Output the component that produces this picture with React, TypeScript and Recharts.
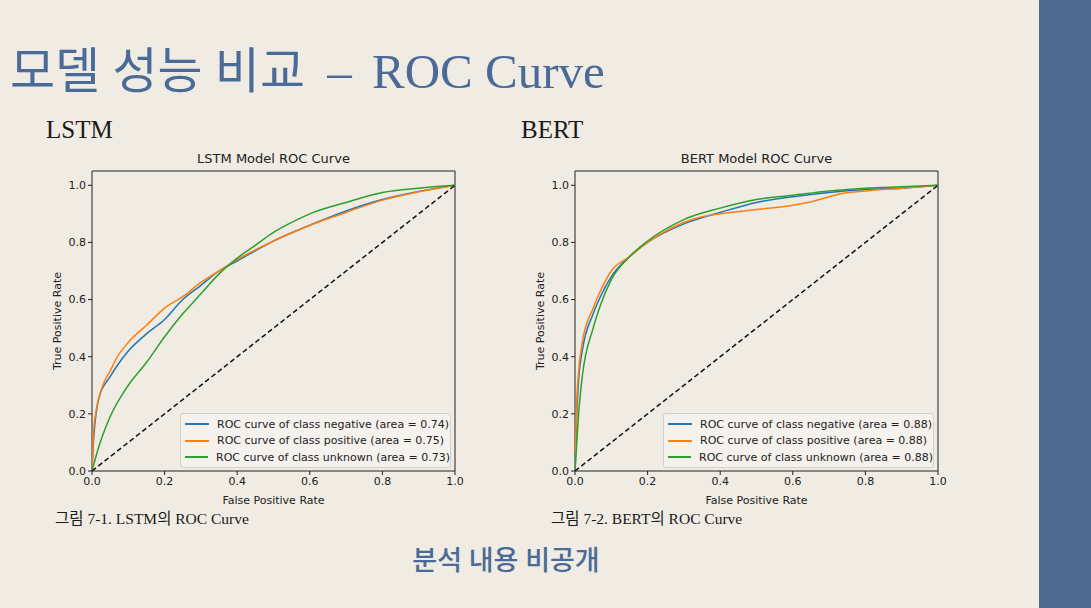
import React from 'react';
import { Legend, Line, LineChart, ReferenceArea, ReferenceLine, XAxis, YAxis } from 'recharts';

// [false positive rate, true positive rate]
const lstmNegative: [number, number][] = [
  [0, 0], [0.005, 0.12], [0.02, 0.26], [0.05, 0.33], [0.07, 0.37], [0.1, 0.42], [0.15, 0.48],
  [0.2, 0.53], [0.25, 0.6], [0.3, 0.65], [0.35, 0.7], [0.4, 0.735], [0.5, 0.805],
  [0.6, 0.86], [0.7, 0.91], [0.8, 0.95], [0.9, 0.978], [1, 1],
];
const lstmPositive: [number, number][] = [
  [0, 0], [0.005, 0.15], [0.01, 0.2], [0.03, 0.3], [0.05, 0.35], [0.07, 0.4], [0.1, 0.45],
  [0.15, 0.51], [0.2, 0.57], [0.25, 0.61], [0.3, 0.66], [0.35, 0.7], [0.4, 0.74],
  [0.5, 0.805], [0.6, 0.86], [0.7, 0.905], [0.8, 0.948], [0.9, 0.977], [1, 1],
];
const lstmUnknown: [number, number][] = [
  [0, 0], [0.02, 0.09], [0.04, 0.16], [0.05, 0.19], [0.1, 0.3], [0.15, 0.38], [0.2, 0.47],
  [0.25, 0.55], [0.3, 0.62], [0.35, 0.69], [0.4, 0.745], [0.45, 0.79], [0.5, 0.835],
  [0.55, 0.87], [0.6, 0.9], [0.7, 0.94], [0.8, 0.975], [0.9, 0.99], [1, 1],
];

const bertNegative: [number, number][] = [
  [0, 0], [0.005, 0.2], [0.01, 0.32], [0.02, 0.42], [0.05, 0.55], [0.07, 0.61], [0.1, 0.68],
  [0.15, 0.75], [0.2, 0.8], [0.3, 0.865], [0.4, 0.905], [0.5, 0.94], [0.6, 0.96],
  [0.7, 0.975], [0.8, 0.985], [0.9, 0.99], [1, 1],
];
const bertPositive: [number, number][] = [
  [0, 0], [0.005, 0.25], [0.01, 0.35], [0.02, 0.45], [0.05, 0.57], [0.07, 0.63], [0.1, 0.7],
  [0.15, 0.75], [0.2, 0.8], [0.3, 0.87], [0.35, 0.89], [0.4, 0.9], [0.5, 0.915],
  [0.6, 0.93], [0.66, 0.945], [0.7, 0.96], [0.74, 0.972], [0.8, 0.98], [0.9, 0.99], [1, 1],
];
const bertUnknown: [number, number][] = [
  [0, 0], [0.005, 0.1], [0.01, 0.2], [0.02, 0.33], [0.05, 0.5], [0.07, 0.58], [0.1, 0.67],
  [0.15, 0.75], [0.2, 0.805], [0.3, 0.88], [0.4, 0.92], [0.5, 0.95], [0.6, 0.965],
  [0.7, 0.98], [0.8, 0.99], [0.9, 0.995], [1, 1],
];

const lstmAreas = ['0.74', '0.75', '0.73'];
const bertAreas = ['0.88', '0.88', '0.88'];
const classNames = ['negative', 'positive', 'unknown'];
const classColors = ['#1f77b4', '#ff7f0e', '#2ca02c'];
const ticks = [0, 0.2, 0.4, 0.6, 0.8, 1.0];

const BG = '#f0ebe3';
const BLUE = '#4a6a98';
const mpl = '"DejaVu Sans", sans-serif';
const serif = '"Liberation Serif", "Noto Sans CJK KR", serif';

const toRows = (pts: [number, number][]) => pts.map(([fpr, tpr]) => ({ fpr, tpr }));

const LegendBox = (props: any) => {
  const items = props.payload || [];
  return (
    <div
      style={{
        width: 269, height: 51, border: '1px solid #d4d0ca', borderRadius: 3,
        background: 'rgba(246,243,238,0.8)', fontFamily: mpl, fontSize: 11, color: '#222',
        boxSizing: 'content-box', paddingTop: 2,
      }}
    >
      {items.map((it: any) => (
        <div key={it.value} style={{ display: 'flex', alignItems: 'center', height: 16.5 }}>
          <div style={{ width: 24, height: 2, background: it.color, marginLeft: 4, marginRight: 8 }} />
          <span style={{ whiteSpace: 'nowrap' }}>{it.value}</span>
        </div>
      ))}
    </div>
  );
};

interface PanelProps {
  left: number;
  title: string;
  curves: [number, number][][];
  areas: string[];
}

const RocPanel: React.FC<PanelProps> = ({ left, title, curves, areas }) => (
  <div style={{ position: 'absolute', left, top: 140, width: 440, height: 380 }}>
    <div
      style={{
        position: 'absolute', left: 62, width: 363, top: 11, textAlign: 'center',
        fontFamily: mpl, fontSize: 13, color: '#222', lineHeight: '16px',
      }}
    >
      {title}
    </div>
    <LineChart width={440} height={380} margin={{ top: 31, right: 15, bottom: 16, left: 22 }}>
      <XAxis
        dataKey="fpr" type="number" domain={[0, 1]} ticks={ticks} allowDataOverflow
        tickFormatter={(v: number) => v.toFixed(1)} axisLine={false} tickSize={4}
        tickLine={{ stroke: '#222' }} tick={{ fill: '#222', fontSize: 11, fontFamily: mpl }}
        height={33}
        label={{ value: 'False Positive Rate', position: 'insideBottom', offset: 0, fill: '#222', fontSize: 11, fontFamily: mpl }}
      />
      <YAxis
        type="number" domain={[0, 1.05]} ticks={ticks} allowDataOverflow
        tickFormatter={(v: number) => v.toFixed(1)} axisLine={false} tickSize={4}
        tickLine={{ stroke: '#222' }} tick={{ fill: '#222', fontSize: 11, fontFamily: mpl }}
        width={40}
        label={{ value: 'True Positive Rate', angle: -90, position: 'insideLeft', offset: 5, fill: '#222', fontSize: 11, fontFamily: mpl, style: { textAnchor: 'middle' } }}
      />
      {curves.map((c, i) => (
        <Line
          key={classNames[i]} data={toRows(c)} dataKey="tpr" type="monotone" dot={false}
          stroke={classColors[i]} strokeWidth={1.5} isAnimationActive={false}
          name={`ROC curve of class ${classNames[i]} (area = ${areas[i]})`}
        />
      ))}
      <ReferenceLine
        segment={[{ x: 0, y: 0 }, { x: 1, y: 1 }]} stroke="#111" strokeWidth={1.5}
        strokeDasharray="5 3" ifOverflow="visible"
      />
      <ReferenceArea x1={0} x2={1} y1={0} y2={1.05} fill="none" stroke="#222" strokeWidth={1} ifOverflow="visible" />
      <Legend
        layout="vertical" align="center" verticalAlign="middle" content={LegendBox}
        wrapperStyle={{ left: 150, top: 273, width: 271, height: 54 }}
      />
    </LineChart>
  </div>
);

export default function App() {
  return (
    <div style={{ position: 'absolute', left: 0, top: 0, width: 1091, height: 608, background: BG, overflow: 'hidden' }}>
      <div
        style={{
          position: 'absolute', left: 10, top: 42, fontFamily: serif, fontSize: 49,
          color: BLUE, whiteSpace: 'pre', lineHeight: '60px',
        }}
      >
        {'모델 성능 비교 '}<span style={{ margin: '0 8px 0 10px' }}>–</span>{' ROC Curve'}
      </div>
      <div style={{ position: 'absolute', left: 46, top: 115, fontFamily: serif, fontSize: 25, color: '#1a1a1a', lineHeight: '30px' }}>LSTM</div>
      <div style={{ position: 'absolute', left: 521, top: 115, fontFamily: serif, fontSize: 25, color: '#1a1a1a', lineHeight: '30px' }}>BERT</div>

      <RocPanel left={30} title="LSTM Model ROC Curve" curves={[lstmNegative, lstmPositive, lstmUnknown]} areas={lstmAreas} />
      <RocPanel left={513} title="BERT Model ROC Curve" curves={[bertNegative, bertPositive, bertUnknown]} areas={bertAreas} />

      <div style={{ position: 'absolute', left: 55, top: 508, fontFamily: serif, fontSize: 15.5, color: '#1a1a1a', lineHeight: '22px', whiteSpace: 'nowrap' }}>
        그림 7-1. LSTM의 ROC Curve
      </div>
      <div style={{ position: 'absolute', left: 551, top: 508, fontFamily: serif, fontSize: 15.5, color: '#1a1a1a', lineHeight: '22px', whiteSpace: 'nowrap' }}>
        그림 7-2. BERT의 ROC Curve
      </div>
      <div
        style={{
          position: 'absolute', left: 0, width: 1012, top: 543, textAlign: 'center',
          fontFamily: serif, fontSize: 27, fontWeight: 500, color: BLUE, lineHeight: '36px',
        }}
      >
        분석 내용 비공개
      </div>
      <div style={{ position: 'absolute', left: 1039, top: 0, width: 52, height: 608, background: '#4f6a91' }} />
    </div>
  );
}
